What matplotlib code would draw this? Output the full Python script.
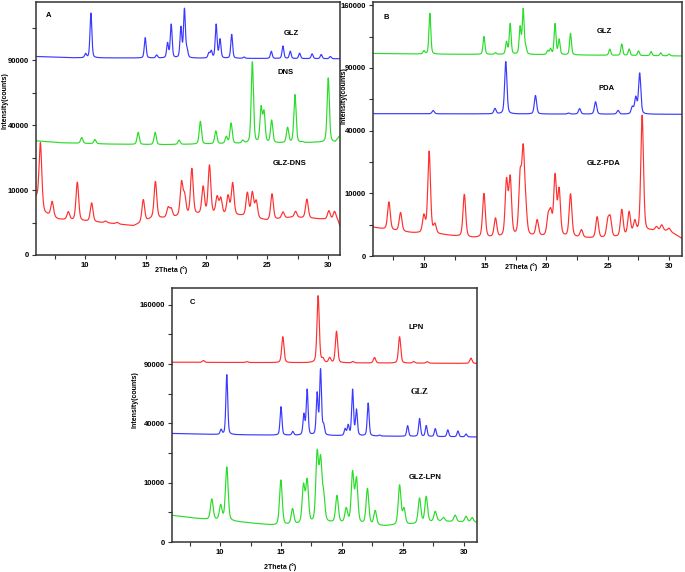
import matplotlib
matplotlib.use('Agg')
import matplotlib.pyplot as plt
import numpy as np

# XRD patterns. Peak tops and baselines are in
# sqrt(counts) units (the y axis of the original is a square-root axis).

# ---- Panel A ----
glz_a_pos = [10.05, 10.49, 14.96, 15.9, 16.8, 17.1, 17.9, 18.19, 18.4, 20.2, 20.4, 20.8, 21.12,
             22.08, 23.1, 25.34, 26.3, 26.9, 27.67, 28.7, 29.45, 30.2]
glz_a_top = [310, 373, 335, 308, 326, 355, 350, 378, 315, 311, 314, 355, 332,
             340, 305, 314, 322, 314, 311, 310, 309, 306]
glz_a_base_x = [6, 9, 31]
glz_a_base_y = [306, 304, 302.5]

dns_pos = [9.73, 10.82, 14.38, 15.78, 17.75, 19.5, 20.77, 21.64, 22.03, 23.0, 23.78, 24.5, 24.74,
           25.37, 26.68, 27.29, 27.9, 29.0, 30.03]
dns_top = [181, 178, 189, 189, 177, 206, 191, 182, 203, 176, 297, 225, 218,
           207, 196, 247, 174, 174, 273]
dns_base_x = [6, 8, 12, 16, 20, 24, 28, 30.6, 31]
dns_base_y = [176, 173, 171, 170, 171, 172, 173, 174, 184]

glz_dns_pos = [6.33, 7.3, 8.63, 9.37, 10.55, 11.7, 12.66, 14.8, 15.8, 16.85, 17.1, 17.95, 18.2,
               18.8, 19.73, 20.25, 20.88, 21.18, 21.78, 22.16, 23.37, 23.78, 24.1, 25.4, 26.3,
               27.34, 28.27, 30.08, 30.55]
glz_dns_top = [173, 82, 66, 112, 80, 52, 50, 85, 113, 72, 70, 110, 89,
               132, 104, 137, 88, 86, 90, 110, 95, 95, 82, 94, 66,
               67, 86, 68, 67]
glz_dns_base_x = [6, 6.7, 7.8, 10, 12, 14, 15.5, 17, 19, 21, 23, 25, 27, 29, 30.8, 31]
glz_dns_base_y = [88, 64, 55, 52, 49, 45, 56, 57, 62, 62, 60, 53, 58, 56, 54, 44]

# ---- Panel B ----
glz_b_pos = [10.0, 10.49, 14.9, 15.84, 16.74, 17.04, 17.85, 18.1, 18.3, 20.1, 20.33, 20.7, 21.03,
             21.96, 25.16, 26.14, 26.74, 27.5, 28.53, 29.32, 30.0]
glz_b_top = [327, 387, 350, 324, 341, 370, 364, 392, 331, 327, 330, 370, 345,
             355, 330, 338, 330, 327, 326, 324, 322]
glz_b_base_x = [5.85, 10, 20, 31.05]
glz_b_base_y = [323, 322, 321, 319]

pda_pos = [10.76, 15.8, 16.68, 19.1, 21.8, 22.7, 24.0, 25.84, 27.0, 27.28, 27.6]
pda_top = [232, 235, 310, 256, 228, 235, 246, 232, 237, 252, 291]
pda_base_x = [5.85, 31.05]
pda_base_y = [227, 226]

glz_pda_pos = [7.15, 8.1, 10.0, 10.43, 10.9, 13.3, 14.9, 15.84, 16.74, 17.04, 17.85, 18.1, 18.3,
               19.24, 20.14, 20.35, 20.7, 21.03, 21.96, 22.85, 24.13, 25.0, 25.2, 26.14, 26.74,
               27.2, 27.8, 28.97, 29.4, 30.0]
glz_pda_top = [86, 69, 63, 166, 49, 98, 99, 59, 117, 121, 121, 158, 68,
               56, 60, 65, 125, 103, 98, 41, 62, 54, 58, 73, 69,
               54, 224, 46, 49, 44]
glz_pda_base_x = [5.85, 7, 9, 11.5, 13.8, 16, 19, 22, 24, 26, 28.5, 30, 31.05]
glz_pda_base_y = [46, 42, 37, 34, 29, 29, 31, 30, 28, 30, 40, 40, 28]

# ---- Panel C ----
lpn_pos = [8.63, 12.2, 15.15, 18.05, 18.44, 19.0, 19.56, 20.9, 22.68, 24.74, 25.9, 27.0, 30.6]
lpn_top = [306, 304, 346, 415, 308, 310, 355, 304, 311, 346, 304, 304, 310]
lpn_base_x = [6.05, 31.1]
lpn_base_y = [303, 301]

glz_c_pos = [10.08, 10.55, 15.0, 15.97, 16.88, 17.15, 17.97, 18.25, 18.5, 20.27, 20.52, 20.88,
             21.2, 22.16, 23.1, 25.4, 26.38, 26.93, 27.67, 28.7, 29.53, 30.2]
glz_c_top = [189, 282, 228, 186, 214, 256, 249, 289, 195, 190, 196, 256,
             222, 234, 180, 196, 208, 196, 191, 189, 187, 182]
glz_c_base_x = [6.05, 10, 20, 31.1]
glz_c_base_y = [183, 181, 179, 177]

glz_lpn_pos = [9.32, 10.05, 10.55, 14.99, 15.95, 16.85, 17.15, 17.97, 18.25, 18.5, 19.6, 20.36,
               20.88, 21.2, 22.1, 22.74, 24.74, 25.1, 26.38, 26.93, 27.67, 28.35, 29.3, 30.2, 30.7]
glz_lpn_top = [72, 61, 126, 104, 55, 93, 101, 145, 131, 73, 77, 55,
               115, 104, 89, 52, 95, 55, 73, 76, 51, 41, 45, 43, 41]
glz_lpn_base_x = [6.05, 8, 9, 11, 13, 14.5, 16, 19, 21, 23.5, 26, 28, 31.1]
glz_lpn_base_y = [45, 40, 38, 35, 31, 28, 29, 32, 31, 27, 30, 35, 33]

y_ticks = [0, 10000, 40000, 90000, 160000]
y_minor = [2500, 22500, 62500, 122500]
x_ticks = [10, 15, 20, 25, 30]

blue = '#3a3aff'
green = '#2bdc2b'
red = '#ff3030'


def pattern(x, base_x, base_y, pos, top, hw):
    base = np.interp(x, base_x, base_y)
    y = base.copy()
    for p, t in zip(pos, top):
        h = t - np.interp(p, base_x, base_y)
        u = (x - p) / hw
        y += h * (0.65 * np.exp(-np.log(2) * u ** 2) + 0.35 / (1 + u ** 2))
    return y ** 2   # back to counts


def fwd(v):
    return np.sqrt(np.clip(v, 0, None))


def inv(v):
    return np.square(v)


def setup(ax, xlim, ytop, letter, letter_xy, xlab_xy, ylab_xy):
    ax.set_yscale('function', functions=(fwd, inv))
    ax.set_xticks(x_ticks)
    ax.set_xticks(np.arange(7.5, 31, 5), minor=True)
    ax.set_xticklabels([str(t) for t in x_ticks])
    yt = [t for t in y_ticks if t <= ytop ** 2]
    ax.set_yticks(yt)
    ax.set_yticklabels([str(t) for t in yt])
    ax.set_yticks([t for t in y_minor if t <= ytop ** 2], minor=True)
    ax.yaxis.set_minor_formatter(plt.NullFormatter())
    ax.set_xlim(*xlim)
    ax.set_ylim(0, ytop ** 2)
    ax.tick_params(which='both', direction='out', length=3, width=0.8, color='#333333',
                   labelsize=5.5, pad=2)
    for lab in ax.get_xticklabels() + ax.get_yticklabels():
        lab.set_fontweight('bold')
    for s in ax.spines.values():
        s.set_color('#333333')
        s.set_linewidth(1.1)
    ax.text(letter_xy[0], letter_xy[1], letter, transform=ax.transAxes, fontsize=5.5,
            fontweight='bold', ha='center', va='center')
    ax.text(xlab_xy[0], xlab_xy[1], '2Theta (°)', transform=ax.transAxes, fontsize=5,
            fontweight='bold', ha='center', va='center')
    ax.text(ylab_xy[0], ylab_xy[1], 'Intensity(counts)', transform=ax.transAxes, fontsize=5,
            fontweight='bold', ha='center', va='center', rotation=90)


plt.rcParams['font.family'] = ['Liberation Sans', 'DejaVu Sans']

fig = plt.figure(figsize=(6.85, 5.72), dpi=100)
lw = 0.85

# Panel A
ax = fig.add_axes([0.0526, 0.5542, 0.4438, 0.4423])
x = np.linspace(5.97, 31, 3000)
ax.plot(x, pattern(x, glz_a_base_x, glz_a_base_y, glz_a_pos, glz_a_top, 0.09), color=blue, lw=lw)
ax.plot(x, pattern(x, dns_base_x, dns_base_y, dns_pos, dns_top, 0.11), color=green, lw=lw)
ax.plot(x, pattern(x, glz_dns_base_x, glz_dns_base_y, glz_dns_pos, glz_dns_top, 0.13), color=red, lw=lw)
setup(ax, (5.97, 31), 390, 'A', (0.04, 0.945), (0.444, -0.06), (-0.102, 0.61))
ax.text(0.84, 0.877, 'GLZ', transform=ax.transAxes, fontsize=5.5, fontweight='bold', ha='center', va='center')
ax.text(0.82, 0.72, 'DNS', transform=ax.transAxes, fontsize=5.5, fontweight='bold', ha='center', va='center')
ax.text(0.835, 0.36, 'GLZ-DNS', transform=ax.transAxes, fontsize=5.5, fontweight='bold', ha='center', va='center')

# Panel B
ax = fig.add_axes([0.5445, 0.5524, 0.4511, 0.444])
x = np.linspace(5.85, 31.05, 3000)
ax.plot(x, pattern(x, glz_b_base_x, glz_b_base_y, glz_b_pos, glz_b_top, 0.09), color=green, lw=lw)
ax.plot(x, pattern(x, pda_base_x, pda_base_y, pda_pos, pda_top, 0.11), color=blue, lw=lw)
ax.plot(x, pattern(x, glz_pda_base_x, glz_pda_base_y, glz_pda_pos, glz_pda_top, 0.13), color=red, lw=lw)
setup(ax, (5.85, 31.05), 405, 'B', (0.042, 0.94), (0.479, -0.045), (-0.095, 0.63))
ax.text(0.75, 0.886, 'GLZ', transform=ax.transAxes, fontsize=5.5, fontweight='bold', ha='center', va='center')
ax.text(0.757, 0.66, 'PDA', transform=ax.transAxes, fontsize=5.5, fontweight='bold', ha='center', va='center')
ax.text(0.745, 0.366, 'GLZ-PDA', transform=ax.transAxes, fontsize=5.5, fontweight='bold', ha='center', va='center')

# Panel C
ax = fig.add_axes([0.2511, 0.0524, 0.4453, 0.444])
x = np.linspace(6.05, 31.1, 3000)
ax.plot(x, pattern(x, lpn_base_x, lpn_base_y, lpn_pos, lpn_top, 0.11), color=red, lw=lw)
ax.plot(x, pattern(x, glz_c_base_x, glz_c_base_y, glz_c_pos, glz_c_top, 0.09), color=blue, lw=lw)
ax.plot(x, pattern(x, glz_lpn_base_x, glz_lpn_base_y, glz_lpn_pos, glz_lpn_top, 0.13), color=green, lw=lw)
setup(ax, (6.05, 31.1), 428, 'C', (0.066, 0.945), (0.354, -0.098), (-0.121, 0.56))
ax.text(0.80, 0.846, 'LPN', transform=ax.transAxes, fontsize=5.5, fontweight='bold', ha='center', va='center')
ax.text(0.81, 0.59, 'GLZ', transform=ax.transAxes, fontsize=6, fontweight='bold', ha='center', va='center',
        family=['Liberation Serif', 'DejaVu Serif'])
ax.text(0.83, 0.256, 'GLZ-LPN', transform=ax.transAxes, fontsize=5.5, fontweight='bold', ha='center', va='center')

plt.savefig('out.png', dpi=100)
